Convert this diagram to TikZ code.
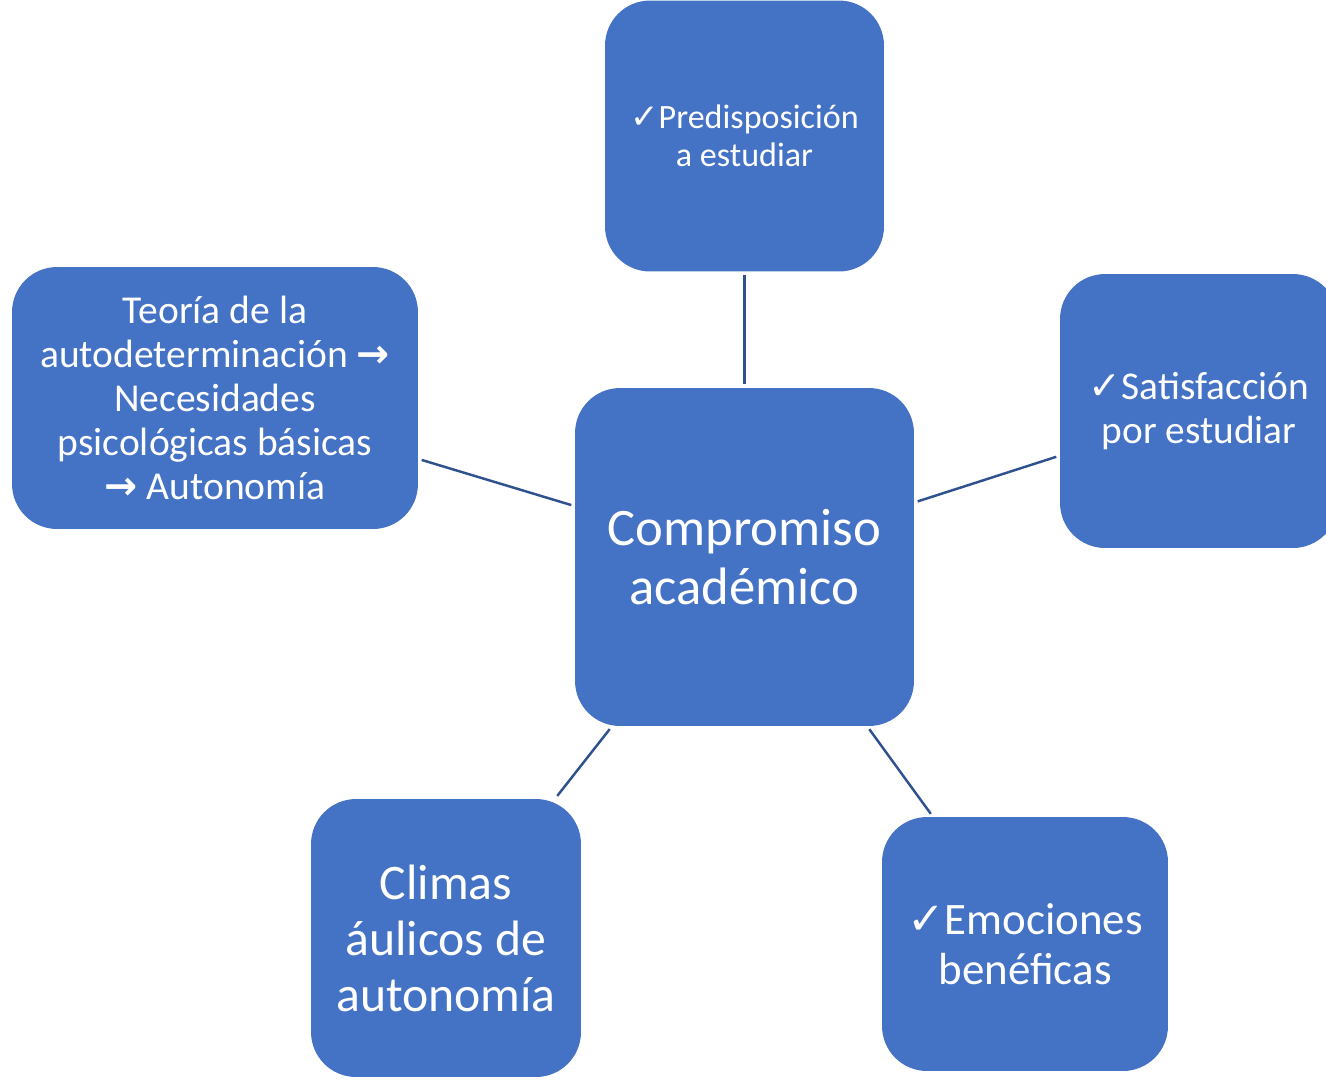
\documentclass[tikz,border=0pt]{standalone}
\usepackage{fontspec}
\setmainfont{Carlito}
\newfontfamily\symfont{DejaVu Sans}
\definecolor{officeblue}{RGB}{68,114,196}
\definecolor{linkblue}{RGB}{47,82,143}
\newcommand{\chk}{{\symfont ✓}}
\newcommand{\arr}{{\symfont\bfseries →}}

\begin{document}
\begin{tikzpicture}[x=0.02cm, y=-0.02cm,
    topicbox/.style={rectangle, rounded corners=0.9cm, fill=officeblue, text=white,
      inner sep=0pt, align=center},
    link/.style={draw=linkblue, line width=1.4pt, shorten >=2pt, shorten <=2pt}]
  \clip (0,0) rectangle (1326,1080);
  % central node
  \node[topicbox, minimum width=6.78cm, minimum height=6.76cm,
    font=\fontsize{30}{33.6}\selectfont] (core) at (744.5,557) {Compromiso\\académico};
  % topics round it
  \node[topicbox, minimum width=5.58cm, minimum height=5.42cm,
    font=\fontsize{19.4}{21.6}\selectfont] (predisp) at (744.5,136) {\chk Predisposición\\a estudiar};
  \node[topicbox, minimum width=8.12cm, minimum height=5.24cm,
    font=\fontsize{22.5}{25}\selectfont] (theory) at (215,398)
    {Teoría de la\\autodeterminación \arr\\Necesidades\\psicológicas básicas\\\arr{} Autonomía};
  \node[topicbox, minimum width=5.56cm, minimum height=5.48cm,
    font=\fontsize{22.4}{25}\selectfont] (satisf) at (1199,411) {\chk Satisfacción\\por estudiar};
  \node[topicbox, minimum width=5.4cm, minimum height=5.56cm,
    font=\fontsize{28.3}{31.9}\selectfont] (climate) at (446,938) {Climas\\áulicos de\\autonomía};
  \node[topicbox, minimum width=5.72cm, minimum height=5.08cm,
    font=\fontsize{25.6}{28.5}\selectfont] (emotion) at (1025,944) {\chk Emociones\\benéficas};
  % connectors
  \foreach \t in {predisp, theory, satisf, climate, emotion}
    \draw[link] (core) -- (\t);
\end{tikzpicture}
\end{document}
